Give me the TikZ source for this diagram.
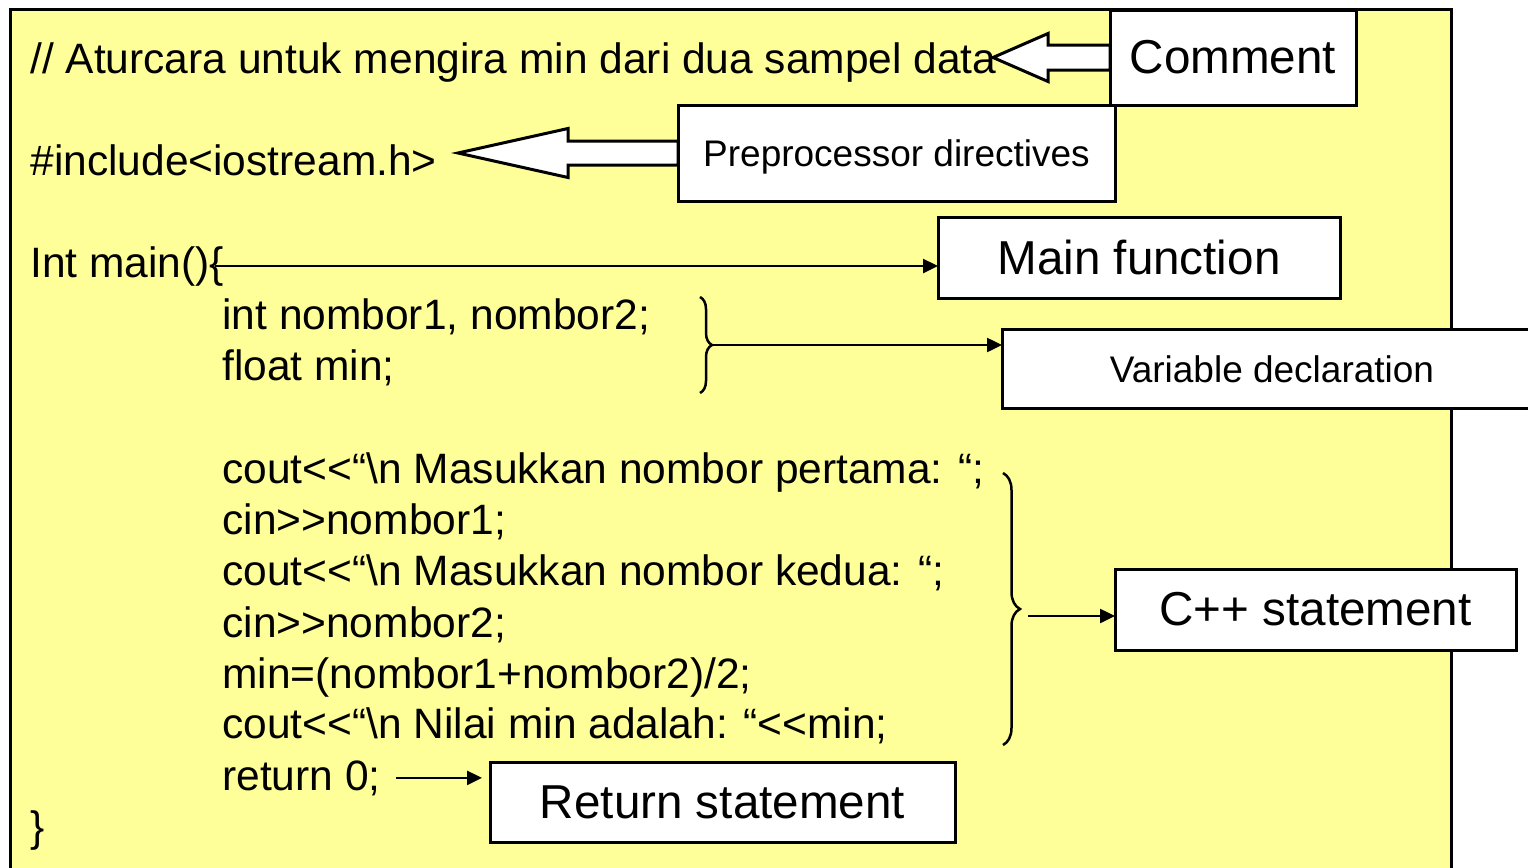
\documentclass[tikz,border=0pt]{standalone}
\usepackage{fontspec}
\setmainfont{Liberation Sans}
\usepackage{tikz}
\usetikzlibrary{arrows.meta}
\usetikzlibrary{decorations.pathreplacing}
\usetikzlibrary{calc}
\definecolor{pad}{HTML}{FFFF99}
\tikzset{ln/.style={font=\fontsize{21.25}{21.25}\selectfont, anchor=base west, inner sep=0pt}}
\tikzset{tg/.style={draw, line width=1.5pt, fill=white, inner sep=0pt, outer sep=0pt, font=\fontsize{23.8}{23.8}\selectfont}}
\tikzset{sm/.style={tg, text depth=0pt, font=\fontsize{18.5}{18.5}\selectfont}}
\tikzset{pointer/.style={-{Triangle[length=7.5pt,width=7pt]}, line width=1.25pt}}
\tikzset{fat/.style={draw, fill=white, line width=1.5pt, line join=miter}}
\tikzset{curly/.style={decorate, line width=1.25pt, decoration={brace, amplitude=#1}}}

\begin{document}
\begin{tikzpicture}[x=0.5pt, y=-0.5pt]
        \useasboundingbox (0,0) rectangle (1528,868);
        \clip (0,0) rectangle (1528,868);
        \draw [fill=pad, line width=1.5pt] (10,9) rectangle (1451,900);

        % the program
        \node [ln] (cmttext) at (30,73) {// Aturcara untuk mengira min dari dua sampel data};
        \node [ln] (incl) at (30,175) {\#include{<}iostream.h{>}};
        \node [ln] (intmain) at (30,277) {Int main()\{};
        \node [ln] (decl1) at (222,329) {int nombor1, nombor2;};
        \node [ln] (decl2) at (222,380) {float min;};
        \node [ln] (st1) at (222,483) {cout{<}{<}“\textbackslash n Masukkan nombor pertama: “;};
        \node [ln] (st2) at (222,534) {cin{>}{>}nombor1;};
        \node [ln] (st3) at (222,585) {cout{<}{<}“\textbackslash n Masukkan nombor kedua: “;};
        \node [ln] (st4) at (222,637) {cin{>}{>}nombor2;};
        \node [ln] (st5) at (222,688) {min=(nombor1+nombor2)/2;};
        \node [ln] (st6) at (222,738) {cout{<}{<}“\textbackslash n Nilai min adalah: “{<}{<}min;};
        \node [ln] (ret) at (222,790) {return 0;};
        \node [ln] (close) at (30,841) {\}};

        % labels
        \node [tg, minimum width=123pt, minimum height=47.5pt] (cmt) at (1233,57.5) {Comment};
        \node [sm, minimum width=218.5pt, minimum height=48pt] (prep) at (896.5,153) {Preprocessor directives};
        \node [tg, minimum width=201pt, minimum height=40.5pt] (mainfn) at (1139,257.5) {Main function};
        \node [sm, minimum width=270pt, minimum height=39.5pt] (var) at (1272,369) {Variable declaration};
        \node [tg, minimum width=200.5pt, minimum height=40.5pt] (cpp) at (1315.5,609.5) {C++ statement};
        \node [tg, minimum width=232.5pt, minimum height=40pt] (retbox) at (722.5,802) {Return statement};

        % hollow arrows
        \coordinate (cmttip) at ($(cmt.west)+(-117,0)$);
        \draw [fat] (cmttip) -- ++(55,-24) -- ++(0,11.5) -- ($(cmt.west)+(0,-12.5)$)
          -- ($(cmt.west)+(0,12.5)$) -- ($(cmttip)+(55,12.5)$) -- ++(0,11.5) -- cycle;
        \coordinate (preptip) at ($(prep.west)+(-220,0)$);
        \draw [fat] (preptip) -- ++(110,-24.5) -- ++(0,12.5) -- ($(prep.west)+(0,-12)$)
          -- ($(prep.west)+(0,12)$) -- ($(preptip)+(110,12)$) -- ++(0,12.5) -- cycle;

        % braces
        \draw [curly=6pt] (700,297) -- (700,393);
        \draw [curly=8.5pt] (1003,473) -- (1003,745);
        \coordinate (dtip) at (712,345);
        \coordinate (stip) at (1028,616);

        % pointers
        \draw [pointer] ($(intmain.east)+(-9,0)$) -- (intmain.east -| mainfn.west);
        \draw [pointer] (dtip) -- (dtip -| var.west);
        \draw [pointer] (stip) -- (stip -| cpp.west);
        \draw [pointer, shorten >=4pt] ($(ret.east)+(15,0)$) -- (ret.east -| retbox.west);
      \end{tikzpicture}
\end{document}
